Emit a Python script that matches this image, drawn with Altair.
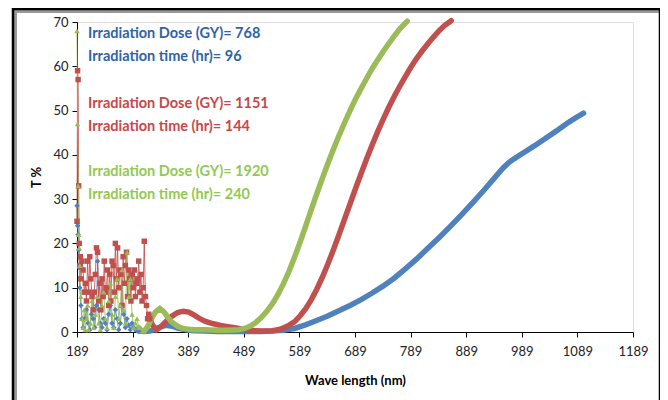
import altair as alt
import pandas as pd

# ---------------- data ----------------
blue_noisy_x = [189,190,191,192,193,194,196,198,200,203,206,209,212,215,218,221,224,226,228,231,234,237,240,243,246,249,252,255,258,261,264,267,270,273,276,279,282,285,288,291,294,297,300]
blue_noisy_y = [28.5,24,22,18.5,14.5,10,6,3,1,3,5,2,0.5,4,3,1,6,16,5,2,1,3,2,0.5,4,6,2,1,5,3,0.5,2,6,4,1,3,1.5,0.5,2,1,0.5,0.3,0.2]
blue_x = [300,310,320,330,340,350,360,370,380,390,400,420,440,460,480,500,520,540,560,580,600,620,640,660,680,700,720,740,760,780,800,820,840,860,880,900,920,940,955,965,975,990,1010,1030,1050,1070,1085,1100]
blue_y = [0.2,0.1,0.2,0.6,1.2,1.5,1.3,0.9,0.6,0.4,0.3,0.2,0.1,0.1,0.1,0.1,0.1,0.2,0.4,0.8,1.6,2.6,3.6,4.8,6.0,7.3,8.8,10.4,12.2,14.3,16.5,18.9,21.3,23.8,26.4,29.1,31.9,34.8,37.0,38.2,39.1,40.3,41.9,43.6,45.3,47.1,48.3,49.4]

red_noisy_x = [189,190,191,192,193,194,195,196,198,200,202,204,206,208,210,212,214,216,218,220,222,224,226,228,230,232,234,236,238,240,242,244,246,248,250,252,254,256,258,260,262,264,266,268,270,272,274,276,278,280,282,284,286,288,290,292,294,296,298,300,302,304,306,308,310,312,314,316,318,320]
red_noisy_y = [25,59,57,33,20,15,17,12,16,14,9,11,7,16,9,17,12,8,5,9,13,19,18,7,11,5,12,8,16,9,10,14,6,13,7,16,15,9,20,12,19,10,14,13,6,17,11,15,18,8,14,12,7,13,10,14,8,11,12,16,9,13,7,10,20.5,8,6,3,4,3]
red_x = [320,325,332,340,350,360,370,380,390,400,410,420,430,440,450,460,470,480,490,500,510,520,530,540,550,560,570,580,590,600,610,620,630,640,650,660,670,680,690,700,710,720,730,740,750,760,770,780,790,800,810,820,830,840,850,862]
red_y = [3,1.5,0.5,1.2,2.5,3.6,4.4,4.7,4.5,3.8,3.0,2.4,2.0,1.7,1.4,1.2,1.0,0.8,0.6,0.4,0.3,0.2,0.2,0.3,0.5,0.9,1.5,2.3,3.6,5.2,7.2,9.6,12.3,15.3,18.5,21.9,25.4,28.9,32.4,35.8,39.1,42.3,45.3,48.1,50.8,53.3,55.6,57.8,59.9,61.8,63.5,65.1,66.6,68.0,69.2,70.3]

green_noisy_x = [189,190,191,192,193,194,196,198,200,202,204,206,208,210,213,216,219,222,225,228,231,234,237,240,243,246,249,252,255,258,261,264,267,270,273,276,279,282,285,288,291,294,297,300]
green_noisy_y = [68,47,33,22,19,15,8,3,1,5,0.5,3,6,0.5,2,7,1,4,8,2,0.5,6,9,3,1,7,11,4,1,8,12,3,6,14,5,2,18,8,12,4,1,2,3,1]
green_x = [300,305,310,315,320,325,330,338,345,352,360,370,380,390,400,420,440,460,480,490,500,510,520,530,540,550,560,570,580,590,600,610,620,630,640,650,660,670,680,690,700,710,720,730,740,750,760,770,783]
green_y = [1,0.3,0.2,1.0,2.2,3.5,4.5,5.3,4.6,3.4,2.2,1.3,0.8,0.6,0.5,0.5,0.4,0.4,0.5,0.8,1.3,2.1,3.2,4.6,6.3,8.4,10.8,13.6,16.8,20.2,23.8,27.5,31.1,34.6,38.0,41.2,44.3,47.2,50.0,52.6,55.0,57.3,59.5,61.5,63.4,65.2,66.9,68.5,70.2]

series_names = ["768", "1151", "1920"]
series_colors = ["#4F81BD", "#C0504D", "#9BBB59"]
text_colors = ["#2E63A8", "#C9474A", "#92C953"]
x_ticks = [189, 289, 389, 489, 589, 689, 789, 889, 989, 1089, 1189]
y_ticks = [0, 10, 20, 30, 40, 50, 60, 70]
legend_lines = [
    ("Irradiation Dose (GY)= 768", 0),
    ("Irradiation time (hr)= 96", 0),
    ("Irradiation Dose (GY)= 1151", 1),
    ("Irradiation time (hr)= 144", 1),
    ("Irradiation Dose (GY)= 1920", 2),
    ("Irradiation time (hr)= 240", 2),
]

# --------------- tables ---------------
def frame(xs, ys, name):
    return pd.DataFrame({"x": xs, "y": ys, "s": name})

smooth = pd.concat([frame(blue_x, blue_y, "768"), frame(red_x, red_y, "1151"), frame(green_x, green_y, "1920")])
noisy = pd.concat([frame(blue_noisy_x, blue_noisy_y, "768"), frame(red_noisy_x, red_noisy_y, "1151"), frame(green_noisy_x, green_noisy_y, "1920")])

FONT = "Lato"

xs = alt.X("x:Q", scale=alt.Scale(domain=[189, 1189], nice=False, zero=False),
           axis=alt.Axis(values=x_ticks, format="d", title="Wave length (nm)", grid=False, labelFlush=False,
                         domainColor="black", tickColor="black", labelColor="#222", labelFont=FONT,
                         labelFontSize=13, titleFont=FONT, titleFontSize=13, titleFontWeight="bold",
                         titleColor="black", labelPadding=8, titlePadding=16, tickSize=5))
ys = alt.Y("y:Q", scale=alt.Scale(domain=[0, 70], nice=False),
           axis=alt.Axis(values=y_ticks, title="T %", grid=False, domainColor="black", tickColor="black",
                         labelColor="#222", labelFont=FONT, labelFontSize=13, titleFont=FONT,
                         titleFontSize=13, titleFontWeight="bold", titleColor="black", titlePadding=9,
                         tickSize=5, labelPadding=4))
color = alt.Color("s:N", scale=alt.Scale(domain=series_names, range=series_colors), legend=None)
shape = alt.Shape("s:N", scale=alt.Scale(domain=series_names, range=["diamond", "square", "triangle-up"]), legend=None)

smooth_layer = alt.Chart(smooth).mark_line(strokeWidth=5.5, strokeCap="round").encode(x=xs, y=ys, color=color, detail="s:N")
noisy_line = alt.Chart(noisy).mark_line(strokeWidth=1, opacity=0.85).encode(x=xs, y=ys, color=color, detail="s:N")
noisy_pts = alt.Chart(noisy).mark_point(filled=True, size=30, opacity=1).encode(x=xs, y=ys, color=color, shape=shape)

one = pd.DataFrame({"a": [0]})
shadow = alt.Chart(one).mark_rect(fill=None, stroke="#999", strokeWidth=4).encode(
    x=alt.value(-62), x2=alt.value(586), y=alt.value(-11), y2=alt.value(395))
border = alt.Chart(one).mark_rect(fill=None, stroke="black", strokeWidth=2.5).encode(
    x=alt.value(-64), x2=alt.value(583), y=alt.value(-13), y2=alt.value(392))

text_y = [12, 35, 82, 105, 150, 173]
texts = []
for (txt, ci), ty in zip(legend_lines, text_y):
    texts.append(alt.Chart(one).mark_text(text=txt, align="left", baseline="middle", font=FONT,
                                          fontSize=14.5, fontWeight="bold", color=text_colors[ci]).encode(
        x=alt.value(11), y=alt.value(ty)))

chart = alt.layer(shadow, border, smooth_layer, noisy_line, noisy_pts, *texts).properties(
    width=556, height=310,
    autosize=alt.AutoSizeParams(type="none"),
    padding={"left": 69, "top": 14, "right": 27, "bottom": 80},
).configure_view(stroke=None).configure(background="white")

chart.save("out.html", embed_options={"renderer": "svg", "actions": False})
